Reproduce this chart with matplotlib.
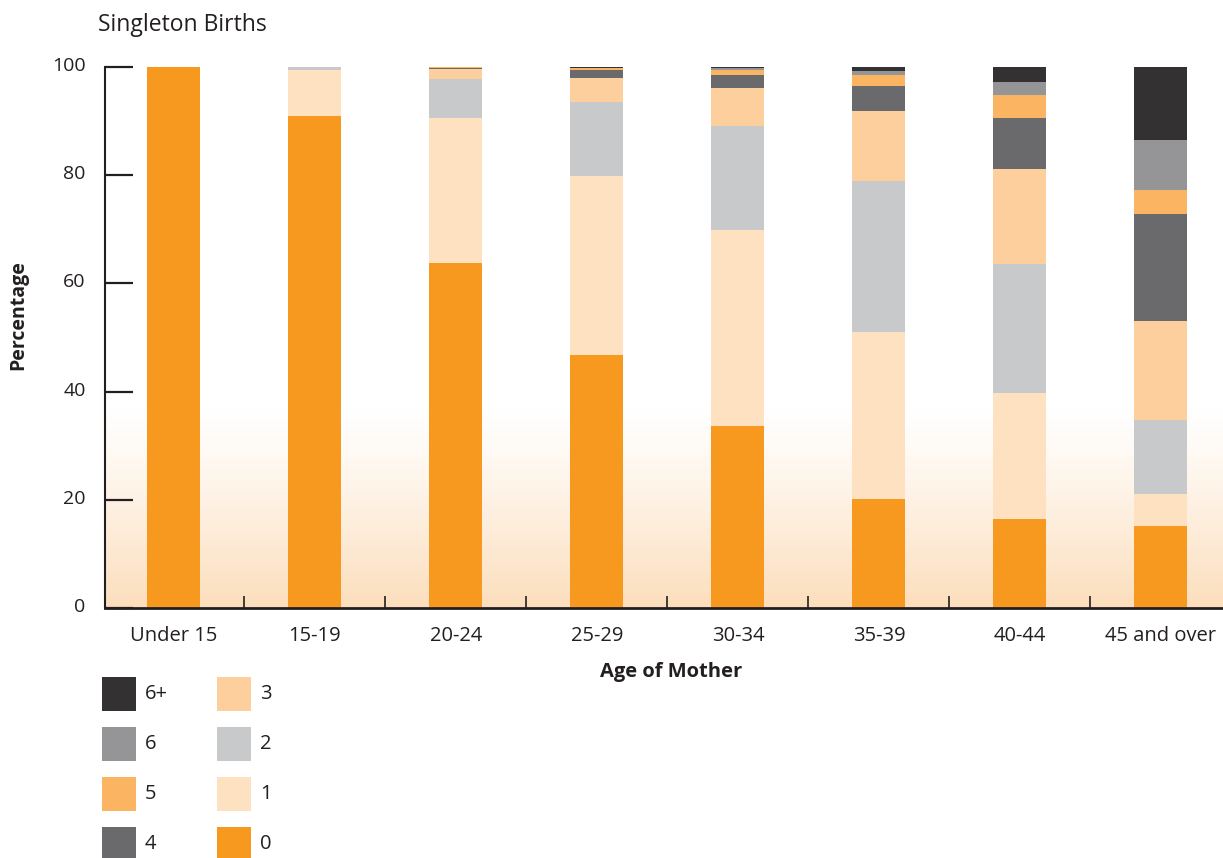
import matplotlib
matplotlib.use("Agg")
import matplotlib.pyplot as plt
import matplotlib.transforms as mtransforms
import numpy as np
from matplotlib.patches import Rectangle

plt.rcParams['font.family'] = ['Open Sans', 'DejaVu Sans']

categories = ["Under 15", "15-19", "20-24", "25-29", "30-34", "35-39", "40-44", "45 and over"]
series_names = ["0", "1", "2", "3", "4", "5", "6", "6+"]
v0  = [100.0, 91.0, 63.8, 46.8, 33.6, 20.1, 16.5, 15.2]
v1  = [0.0,   8.5, 26.8, 33.1, 36.3, 30.9, 23.2,  5.9]
v2  = [0.0,   0.5,  7.2, 13.6, 19.2, 27.9, 23.9, 13.7]
v3  = [0.0,   0.0,  1.8,  4.5,  7.0, 13.0, 17.5, 18.2]
v4  = [0.0,   0.0,  0.3,  1.4,  2.4,  4.6,  9.5, 19.8]
v5  = [0.0,   0.0,  0.1,  0.4,  0.9,  2.0,  4.2,  4.5]
v6  = [0.0,   0.0,  0.0,  0.1,  0.4,  0.8,  2.4,  9.2]
v6p = [0.0,   0.0,  0.0,  0.1,  0.2,  0.7,  2.8, 13.5]
series = [v0, v1, v2, v3, v4, v5, v6, v6p]
colors = ["#F7981F", "#FDE1C1", "#C8C9CB", "#FCCF9C", "#6A6A6C", "#FBB562", "#959598", "#333132"]
yticks = [0, 20, 40, 60, 80, 100]

W, H = 1223, 858
TXT = '#231F20'
fig = plt.figure(figsize=(W / 100, H / 100), dpi=100)
ax = fig.add_axes([105 / W, (H - 608) / H, (W - 105) / W, (608 - 67) / H])

x = np.arange(len(categories))
ax.set_xlim(-0.489, 7.44)
ax.set_ylim(0, 100)

# gradient background (peach at bottom fading to white)
t = np.linspace(0, 1, 256)          # 0 at bottom, 1 at top
strength = (1 - t) ** 1.2
peach = np.array([252, 222, 188]) / 255.0
img = (1 - strength[:, None, None]) * np.ones((256, 1, 3)) + strength[:, None, None] * peach[None, None, :]
ax.imshow(img, extent=[-0.489, 7.44, 0, 37], aspect='auto', origin='lower', zorder=0)

bottom = np.zeros(len(categories))
for name, vals, c in zip(series_names, series, colors):
    ax.bar(x, vals, width=0.376, bottom=bottom, color=c, edgecolor='none', zorder=2)
    bottom += np.array(vals)

for s in ['top', 'right']:
    ax.spines[s].set_visible(False)
ax.spines['left'].set_color(TXT)
ax.spines['left'].set_linewidth(1.5)
ax.spines['bottom'].set_color(TXT)
ax.spines['bottom'].set_linewidth(2)
ax.spines['left'].set_zorder(5)
ax.spines['bottom'].set_zorder(5)

ax.set_yticks(yticks)
ax.set_yticklabels([str(t) for t in yticks])
ax.tick_params(axis='y', direction='in', length=20, width=1.6, color=TXT,
               labelsize=14, pad=14, labelcolor=TXT)
shift = mtransforms.ScaledTranslation(0, 3 / 100, fig.dpi_scale_trans)
for lbl in ax.get_yticklabels():
    lbl.set_transform(lbl.get_transform() + shift)
ax.set_xticks(x)
ax.set_xticklabels(categories)
ax.tick_params(axis='x', which='major', length=0, labelsize=14.5, pad=13, labelcolor=TXT)
ax.set_xticks(x[:-1] + 0.5, minor=True)
ax.tick_params(axis='x', which='minor', direction='in', length=9, width=1.2, color=TXT)

fig.text(98 / W, 1 - 25 / H, "Singleton Births", fontsize=16.5, ha='left', va='center', color=TXT)
fig.text(18 / W, 1 - 315 / H, "Percentage", fontsize=14, fontweight='bold', rotation=90,
         ha='center', va='center', color=TXT)
fig.text(671 / W, 1 - 672 / H, "Age of Mother", fontsize=14.5, fontweight='bold',
         ha='center', va='center', color=TXT)

# legend (two columns: 6+,6,5,4 | 3,2,1,0)
order = [7, 6, 5, 4, 3, 2, 1, 0]
box = 34
for k, i in enumerate(order):
    col, row = divmod(k, 4)
    x0 = 102 + col * 115
    y0 = 677 + row * 50
    fig.add_artist(Rectangle((x0 / W, 1 - (y0 + box) / H), box / W, box / H,
                             transform=fig.transFigure, facecolor=colors[i], edgecolor='none'))
    fig.text((x0 + 43) / W, 1 - (y0 + box / 2) / H, series_names[i], fontsize=14.5,
             ha='left', va='center', color=TXT)

fig.savefig("out.png", dpi=100)
